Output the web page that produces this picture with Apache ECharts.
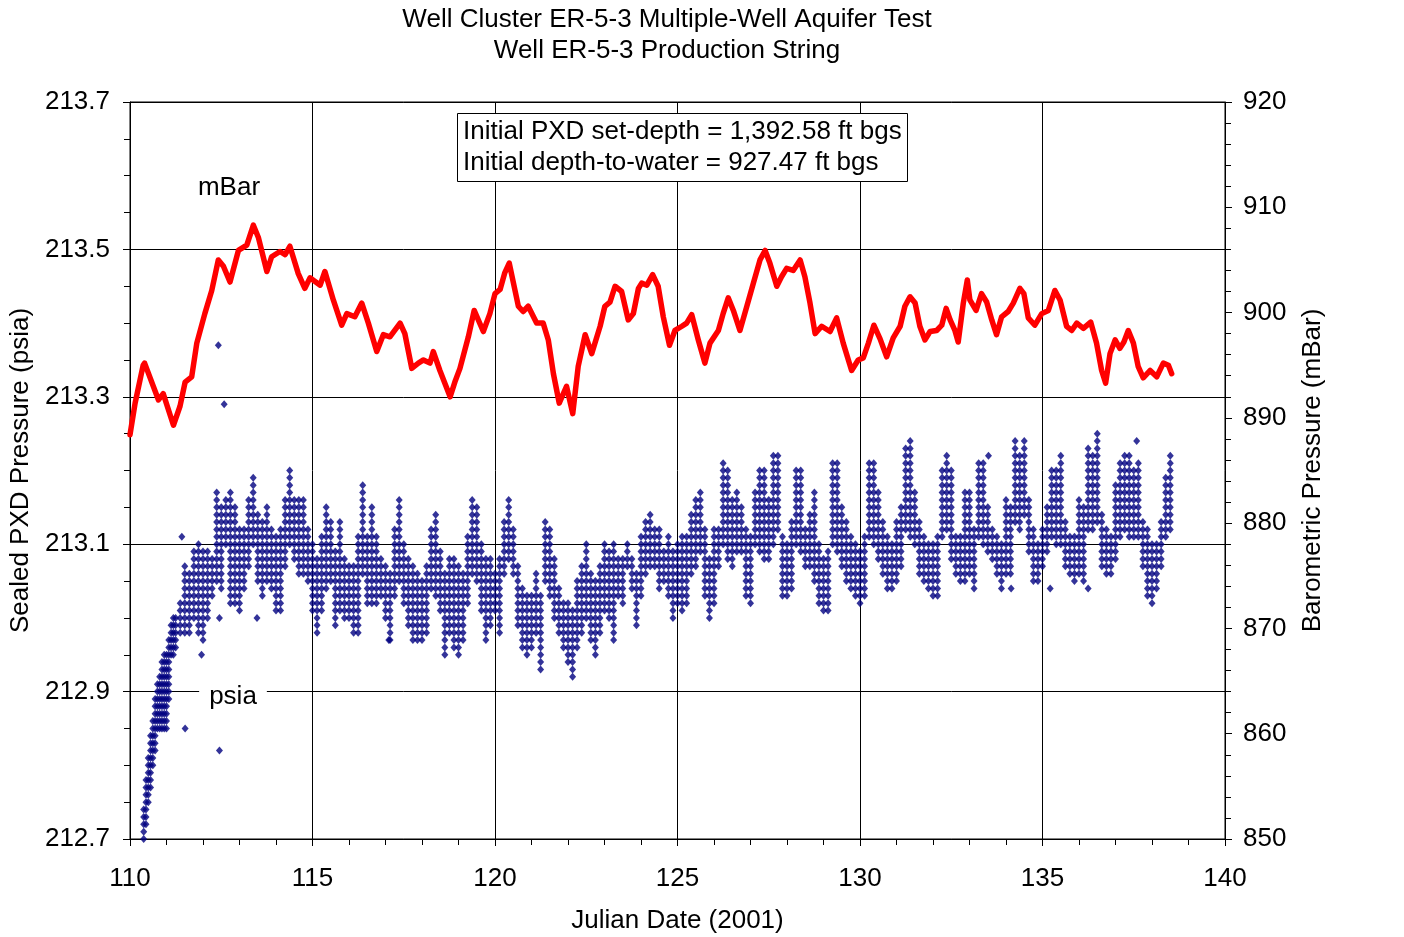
<!DOCTYPE html>
<html>
<head>
<meta charset="utf-8">
<title>Well ER-5-3 Production String</title>
<script src="https://cdn.jsdelivr.net/npm/echarts@6/dist/echarts.min.js"></script>
<style>
  html, body { margin: 0; padding: 0; background: #fff; }
  #chart { width: 1404px; height: 937px; }
</style>
</head>
<body>
<div id="chart"></div>
<script>
// ---------------------------------------------------------------------------
// Text
// ---------------------------------------------------------------------------
const titleLines = [
  'Well Cluster ER-5-3 Multiple-Well Aquifer Test',
  'Well ER-5-3 Production String'
];
const noteLines = [
  'Initial PXD set-depth = 1,392.58 ft bgs',
  'Initial depth-to-water = 927.47 ft bgs'
];
const xAxisTitle = 'Julian Date (2001)';
const psiaAxisTitle = 'Sealed PXD Pressure (psia)';
const mbarAxisTitle = 'Barometric Pressure (mBar)';
const mbarSeriesLabel = 'mBar';
const psiaSeriesLabel = 'psia';

// ---------------------------------------------------------------------------
// Axis ranges
// ---------------------------------------------------------------------------
const dayRange = [110, 140, 5];          // min, max, major step
const psiaRange = [212.7, 213.7, 0.2];
const mbarRange = [850, 920, 10];

// ---------------------------------------------------------------------------
// Barometric pressure (mBar) vs Julian date
// ---------------------------------------------------------------------------
const baroDay = [
  110.00, 110.14, 110.36, 110.40, 110.78, 110.91, 111.19, 111.37, 111.51, 111.69,
  111.83, 112.05, 112.24, 112.42, 112.56, 112.74, 112.97, 113.20, 113.38, 113.52,
  113.75, 113.88, 114.11, 114.25, 114.38, 114.61, 114.79, 114.93, 115.21, 115.34,
  115.57, 115.80, 115.94, 116.16, 116.35, 116.53, 116.76, 116.94, 117.12, 117.40,
  117.53, 117.72, 117.90, 118.04, 118.22, 118.31, 118.49, 118.77, 118.90, 119.04,
  119.27, 119.43, 119.68, 119.86, 120.00, 120.14, 120.27, 120.39, 120.64, 120.77,
  120.91, 121.14, 121.32, 121.46, 121.60, 121.76, 121.96, 122.13, 122.28, 122.47,
  122.65, 122.88, 123.01, 123.15, 123.29, 123.47, 123.65, 123.79, 123.93, 124.02,
  124.16, 124.32, 124.47, 124.61, 124.78, 124.93, 125.12, 125.25, 125.39, 125.57,
  125.75, 125.89, 126.12, 126.25, 126.39, 126.53, 126.71, 126.90, 127.08, 127.26,
  127.40, 127.53, 127.72, 127.85, 127.99, 128.17, 128.36, 128.49, 128.63, 128.77,
  128.95, 129.18, 129.36, 129.54, 129.77, 129.95, 130.09, 130.23, 130.38, 130.55,
  130.73, 130.91, 131.10, 131.23, 131.37, 131.51, 131.64, 131.78, 131.92, 132.10,
  132.24, 132.36, 132.47, 132.60, 132.69, 132.83, 132.94, 133.01, 133.18, 133.33,
  133.47, 133.61, 133.74, 133.88, 134.06, 134.20, 134.38, 134.49, 134.61, 134.79,
  134.98, 135.16, 135.34, 135.48, 135.66, 135.80, 135.94, 136.12, 136.32, 136.48,
  136.62, 136.73, 136.85, 136.99, 137.12, 137.23, 137.35, 137.49, 137.62, 137.76,
  137.95, 138.13, 138.31, 138.45, 138.54
];
const baroMbar = [
  888.4, 891.4, 895.0, 895.2, 891.7, 892.3, 889.3, 891.1, 893.4, 893.9,
  897.1, 899.9, 902.1, 905.0, 904.4, 902.9, 905.9, 906.4, 908.3, 907.1,
  903.9, 905.3, 905.8, 905.5, 906.3, 903.7, 902.3, 903.3, 902.6, 903.9,
  901.2, 898.8, 899.9, 899.6, 900.9, 899.0, 896.3, 897.9, 897.7, 899.0,
  898.0, 894.7, 895.2, 895.5, 895.2, 896.3, 894.5, 892.0, 893.4, 894.7,
  897.7, 900.2, 898.2, 899.9, 901.8, 902.2, 903.8, 904.7, 900.6, 900.1,
  900.6, 899.0, 899.0, 897.4, 894.2, 891.4, 893.0, 890.4, 894.9, 897.9,
  896.1, 898.7, 900.6, 901.0, 902.5, 902.0, 899.3, 899.9, 902.3, 902.8,
  902.6, 903.6, 902.5, 899.6, 896.9, 898.3, 898.7, 899.0, 899.8, 897.4,
  895.2, 897.1, 898.3, 899.9, 901.4, 900.2, 898.3, 900.6, 902.8, 905.0,
  905.9, 904.7, 902.5, 903.4, 904.2, 904.0, 905.0, 903.4, 900.9, 898.0,
  898.7, 898.2, 899.5, 897.1, 894.5, 895.5, 895.7, 897.1, 898.8, 897.5,
  895.8, 897.6, 898.7, 900.6, 901.5, 900.9, 898.7, 897.4, 898.2, 898.3,
  898.8, 900.4, 899.3, 898.3, 897.2, 900.9, 903.1, 901.2, 900.2, 901.8,
  901.0, 899.3, 897.9, 899.6, 900.1, 900.9, 902.3, 901.8, 899.5, 898.8,
  899.9, 900.2, 902.1, 901.2, 898.7, 898.3, 899.0, 898.5, 899.1, 897.1,
  894.5, 893.3, 896.1, 897.4, 896.6, 897.2, 898.3, 897.1, 894.9, 893.8,
  894.5, 893.9, 895.2, 895.0, 894.2
];

// ---------------------------------------------------------------------------
// Sealed PXD pressure (psia). Each column holds the lowest and highest reading
// logged in its time window; the gauge resolves 0.01 psi, so a column is drawn
// as one dot per resolved level between those two readings.
// ---------------------------------------------------------------------------
const psiaDay = [
  110.375, 110.4375, 110.5, 110.5625, 110.625, 110.6875, 110.75, 110.8125, 110.875, 110.9375,
  111, 111.0625, 111.125, 111.1875, 111.25, 111.375, 111.5, 111.625, 111.75, 111.875,
  112, 112.125, 112.25, 112.375, 112.5, 112.625, 112.75, 112.875,
  113, 113.125, 113.25, 113.375, 113.5, 113.625, 113.75, 113.875,
  114, 114.125, 114.25, 114.375, 114.5, 114.625, 114.75, 114.875,
  115, 115.125, 115.25, 115.375, 115.5, 115.625, 115.75, 115.875,
  116, 116.125, 116.25, 116.375, 116.5, 116.625, 116.75, 116.875,
  117, 117.125, 117.25, 117.375, 117.5, 117.625, 117.75, 117.875,
  118, 118.125, 118.25, 118.375, 118.5, 118.625, 118.75, 118.875,
  119, 119.125, 119.25, 119.375, 119.5, 119.625, 119.75, 119.875,
  120, 120.125, 120.25, 120.375, 120.5, 120.625, 120.75, 120.875,
  121, 121.125, 121.25, 121.375, 121.5, 121.625, 121.75, 121.875,
  122, 122.125, 122.25, 122.375, 122.5, 122.625, 122.75, 122.875,
  123, 123.125, 123.25, 123.375, 123.5, 123.625, 123.75, 123.875,
  124, 124.125, 124.25, 124.375, 124.5, 124.625, 124.75, 124.875,
  125, 125.125, 125.25, 125.375, 125.5, 125.625, 125.75, 125.875,
  126, 126.125, 126.25, 126.375, 126.5, 126.625, 126.75, 126.875,
  127, 127.125, 127.25, 127.375, 127.5, 127.625, 127.75, 127.875,
  128, 128.125, 128.25, 128.375, 128.5, 128.625, 128.75, 128.875,
  129, 129.125, 129.25, 129.375, 129.5, 129.625, 129.75, 129.875,
  130, 130.125, 130.25, 130.375, 130.5, 130.625, 130.75, 130.875,
  131, 131.125, 131.25, 131.375, 131.5, 131.625, 131.75, 131.875,
  132, 132.125, 132.25, 132.375, 132.5, 132.625, 132.75, 132.875,
  133, 133.125, 133.25, 133.375, 133.5, 133.625, 133.75, 133.875,
  134, 134.125, 134.25, 134.375, 134.5, 134.625, 134.75, 134.875,
  135, 135.125, 135.25, 135.375, 135.5, 135.625, 135.75, 135.875,
  136, 136.125, 136.25, 136.375, 136.5, 136.625, 136.75, 136.875,
  137, 137.125, 137.25, 137.375, 137.5, 137.625, 137.75, 137.875,
  138, 138.125, 138.25, 138.375, 138.5
];
const psiaLow = [
  212.70, 212.72, 212.75, 212.77, 212.80, 212.82, 212.85, 212.85, 212.85, 212.85,
  212.85, 212.89, 212.95, 212.95, 212.96, 212.98, 212.98, 212.98, 213.00, 212.98,
  212.97, 213.00, 213.03, 213.05, 213.04, 213.10, 213.02, 213.02,
  213.01, 213.04, 213.07, 213.10, 213.05, 213.03, 213.05, 213.04,
  213.01, 213.01, 213.07, 213.10, 213.08, 213.06, 213.06, 213.05,
  213.01, 212.98, 213.01, 213.04, 213.05, 212.99, 213.01, 213.00,
  213.00, 212.98, 212.98, 213.06, 213.02, 213.02, 213.02, 213.03,
  213.00, 212.97, 213.03, 213.05, 213.02, 212.99, 212.97, 212.97,
  212.97, 212.98, 213.04, 213.03, 213.01, 212.95, 212.98, 212.96,
  212.95, 212.97, 213.02, 213.06, 213.05, 213.01, 212.97, 212.99,
  213.01, 212.98, 213.06, 213.08, 213.06, 212.99, 212.96, 212.95,
  212.96, 212.98, 212.93, 213.05, 213.03, 213.00, 212.98, 212.96,
  212.94, 212.92, 212.96, 212.98, 213.00, 212.97, 212.95, 212.98,
  213.01, 213.00, 212.97, 213.03, 213.02, 213.07, 213.04, 212.99,
  213.03, 213.06, 213.07, 213.07, 213.04, 213.05, 213.03, 213.00,
  213.02, 213.01, 213.02, 213.06, 213.07, 213.09, 213.03, 213.00,
  213.02, 213.07, 213.10, 213.08, 213.07, 213.09, 213.09, 213.03,
  213.02, 213.10, 213.09, 213.08, 213.08, 213.10, 213.12, 213.03,
  213.03, 213.04, 213.10, 213.09, 213.07, 213.07, 213.05, 213.02,
  213.01, 213.01, 213.10, 213.09, 213.07, 213.05, 213.04, 213.03,
  213.02, 213.03, 213.11, 213.10, 213.08, 213.06, 213.04, 213.04,
  213.05, 213.07, 213.12, 213.11, 213.10, 213.06, 213.05, 213.04,
  213.03, 213.03, 213.11, 213.12, 213.08, 213.06, 213.05, 213.05,
  213.06, 213.04, 213.11, 213.10, 213.09, 213.08, 213.06, 213.04,
  213.06, 213.06, 213.13, 213.12, 213.14, 213.09, 213.05, 213.05,
  213.07, 213.09, 213.11, 213.10, 213.10, 213.07, 213.06, 213.05,
  213.06, 213.05, 213.12, 213.12, 213.13, 213.07, 213.06, 213.06,
  213.08, 213.11, 213.12, 213.11, 213.11, 213.11, 213.07, 213.03,
  213.02, 213.04, 213.07, 213.11, 213.12
];
const psiaHigh = [
  212.74, 212.78, 212.81, 212.84, 212.86, 212.89, 212.91, 212.92, 212.94, 212.95,
  212.95, 212.97, 212.99, 213.00, 213.00, 213.02, 213.07, 213.06, 213.09, 213.10,
  213.09, 213.09, 213.08, 213.17, 213.15, 213.16, 213.17, 213.15,
  213.12, 213.12, 213.16, 213.19, 213.14, 213.13, 213.15, 213.12,
  213.11, 213.12, 213.16, 213.20, 213.16, 213.16, 213.16, 213.12,
  213.10, 213.08, 213.11, 213.15, 213.13, 213.09, 213.13, 213.08,
  213.07, 213.07, 213.11, 213.18, 213.11, 213.15, 213.11, 213.08,
  213.07, 213.06, 213.12, 213.16, 213.10, 213.08, 213.07, 213.06,
  213.05, 213.07, 213.12, 213.14, 213.09, 213.06, 213.08, 213.08,
  213.07, 213.06, 213.11, 213.16, 213.15, 213.10, 213.08, 213.08,
  213.06, 213.08, 213.13, 213.16, 213.12, 213.07, 213.04, 213.03,
  213.03, 213.06, 213.03, 213.13, 213.12, 213.08, 213.04, 213.02,
  213.02, 213.01, 213.05, 213.07, 213.10, 213.06, 213.05, 213.07,
  213.10, 213.09, 213.10, 213.08, 213.08, 213.10, 213.08, 213.06,
  213.11, 213.13, 213.14, 213.12, 213.12, 213.09, 213.11, 213.09,
  213.10, 213.11, 213.11, 213.14, 213.16, 213.17, 213.12, 213.08,
  213.12, 213.12, 213.21, 213.20, 213.16, 213.17, 213.15, 213.12,
  213.11, 213.17, 213.20, 213.20, 213.16, 213.22, 213.22, 213.11,
  213.10, 213.13, 213.20, 213.20, 213.12, 213.14, 213.17, 213.10,
  213.08, 213.09, 213.21, 213.21, 213.15, 213.13, 213.11, 213.10,
  213.09, 213.11, 213.21, 213.21, 213.17, 213.13, 213.11, 213.10,
  213.13, 213.15, 213.23, 213.24, 213.17, 213.13, 213.11, 213.10,
  213.10, 213.11, 213.20, 213.22, 213.20, 213.11, 213.11, 213.17,
  213.17, 213.12, 213.21, 213.21, 213.15, 213.12, 213.11, 213.10,
  213.16, 213.15, 213.24, 213.22, 213.24, 213.16, 213.12, 213.10,
  213.12, 213.15, 213.20, 213.20, 213.22, 213.13, 213.11, 213.11,
  213.16, 213.15, 213.23, 213.22, 213.25, 213.14, 213.12, 213.11,
  213.18, 213.21, 213.22, 213.22, 213.20, 213.21, 213.13, 213.12,
  213.10, 213.10, 213.13, 213.19, 213.22
];
// Isolated readings that sit apart from their columns
const psiaSpikeDay = [111.42, 111.51, 111.96, 112.42, 112.45, 112.45, 112.58, 113.48,
                      117.09, 133.52, 134.14, 135.21, 136.25, 137.58];
const psiaSpikeValue = [213.11, 212.85, 212.95, 213.37, 212.82, 213.00, 213.29, 213.00,
                        212.97, 213.22, 213.04, 213.04, 213.04, 213.24];

// ---------------------------------------------------------------------------
// Build series data
// ---------------------------------------------------------------------------
const baroPoints = baroDay.map((d, i) => [d, baroMbar[i]]);

const psiaPoints = [];
psiaDay.forEach((d, i) => {
  const lo = Math.round(psiaLow[i] * 100);
  const hi = Math.round(psiaHigh[i] * 100);
  for (let h = lo; h <= hi; h++) psiaPoints.push([d, h / 100]);
});
psiaSpikeDay.forEach((d, i) => psiaPoints.push([d, psiaSpikeValue[i]]));

// ---------------------------------------------------------------------------
// Chart
// ---------------------------------------------------------------------------
const FONT = '"Liberation Sans", Arial, Helvetica, sans-serif';
const FS = 26;
const BLACK = '#000';

const chart = echarts.init(document.getElementById('chart'), null, { renderer: 'canvas' });

const axisCommon = {
  axisLine: { show: true, onZero: false, lineStyle: { color: BLACK, width: 1 } },
  axisTick: { show: true, inside: false, length: 7, lineStyle: { color: BLACK, width: 1 } },
  axisLabel: { color: BLACK, fontSize: FS, fontFamily: FONT },
  nameTextStyle: { color: BLACK, fontSize: FS, fontFamily: FONT },
  nameLocation: 'middle'
};

chart.setOption({
  animation: false,
  backgroundColor: '#fff',
  textStyle: { fontFamily: FONT, color: BLACK },
  title: [
    {
      text: titleLines.join('\n'),
      left: 667,
      top: 4,
      padding: 0,
      textAlign: 'center',
      textStyle: { fontSize: FS, fontWeight: 'normal', color: BLACK, fontFamily: FONT, lineHeight: 31 }
    },
    {
      text: noteLines.join('\n'),
      left: 457,
      top: 113,
      padding: [3, 6, 4, 6],
      backgroundColor: '#fff',
      borderColor: BLACK,
      borderWidth: 1,
      textStyle: { fontSize: FS, fontWeight: 'normal', color: BLACK, fontFamily: FONT, lineHeight: 31 }
    }
  ],
  grid: {
    left: 130, right: 179, top: 102, bottom: 98,
    outerBoundsMode: 'none',
    containLabel: false,
    show: true, borderColor: BLACK, borderWidth: 1, backgroundColor: 'transparent'
  },
  xAxis: {
    type: 'value',
    min: dayRange[0], max: dayRange[1], interval: dayRange[2],
    ...axisCommon,
    axisLabel: { ...axisCommon.axisLabel, margin: 27 },
    minorTick: { show: true, splitNumber: 5, length: 6, lineStyle: { color: BLACK, width: 1 } },
    splitLine: { show: true, lineStyle: { color: BLACK, width: 1 } },
    name: xAxisTitle,
    nameGap: 69
  },
  yAxis: [
    {
      type: 'value',
      position: 'left',
      min: psiaRange[0], max: psiaRange[1], interval: psiaRange[2],
      ...axisCommon,
      axisLabel: { ...axisCommon.axisLabel, margin: 20, formatter: v => v.toFixed(1) },
      minorTick: { show: true, splitNumber: 4, length: 6, lineStyle: { color: BLACK, width: 1 } },
      splitLine: { show: true, lineStyle: { color: BLACK, width: 1 } },
      name: psiaAxisTitle,
      nameRotate: 90,
      nameGap: 96
    },
    {
      type: 'value',
      position: 'right',
      min: mbarRange[0], max: mbarRange[1], interval: mbarRange[2],
      ...axisCommon,
      axisLabel: { ...axisCommon.axisLabel, margin: 18 },
      minorTick: { show: true, splitNumber: 5, length: 6, lineStyle: { color: BLACK, width: 1 } },
      splitLine: { show: false },
      name: mbarAxisTitle,
      nameRotate: 90,
      nameGap: 75
    }
  ],
  graphic: [
    {
      type: 'text', x: 229, y: 188, z: 100,
      style: { text: mbarSeriesLabel, fontSize: FS, fontFamily: FONT, fill: BLACK, align: 'center', verticalAlign: 'middle' }
    },
    {
      type: 'text', x: 233, y: 697, z: 100,
      style: {
        text: psiaSeriesLabel, fontSize: FS, fontFamily: FONT, fill: BLACK,
        align: 'center', verticalAlign: 'middle', backgroundColor: '#fff', padding: [2, 10, 2, 10]
      }
    }
  ],
  series: [
    {
      name: psiaSeriesLabel,
      type: 'scatter',
      yAxisIndex: 0,
      data: psiaPoints,
      symbol: 'diamond',
      symbolSize: [7, 8],
      itemStyle: { color: '#000080' },
      progressive: 0,
      large: false,
      z: 2,
      silent: true
    },
    {
      name: mbarSeriesLabel,
      type: 'line',
      yAxisIndex: 1,
      data: baroPoints,
      showSymbol: false,
      symbol: 'none',
      lineStyle: { color: '#ff0000', width: 5.5, join: 'round', cap: 'round' },
      z: 3,
      silent: true
    }
  ]
});
</script>
</body>
</html>
